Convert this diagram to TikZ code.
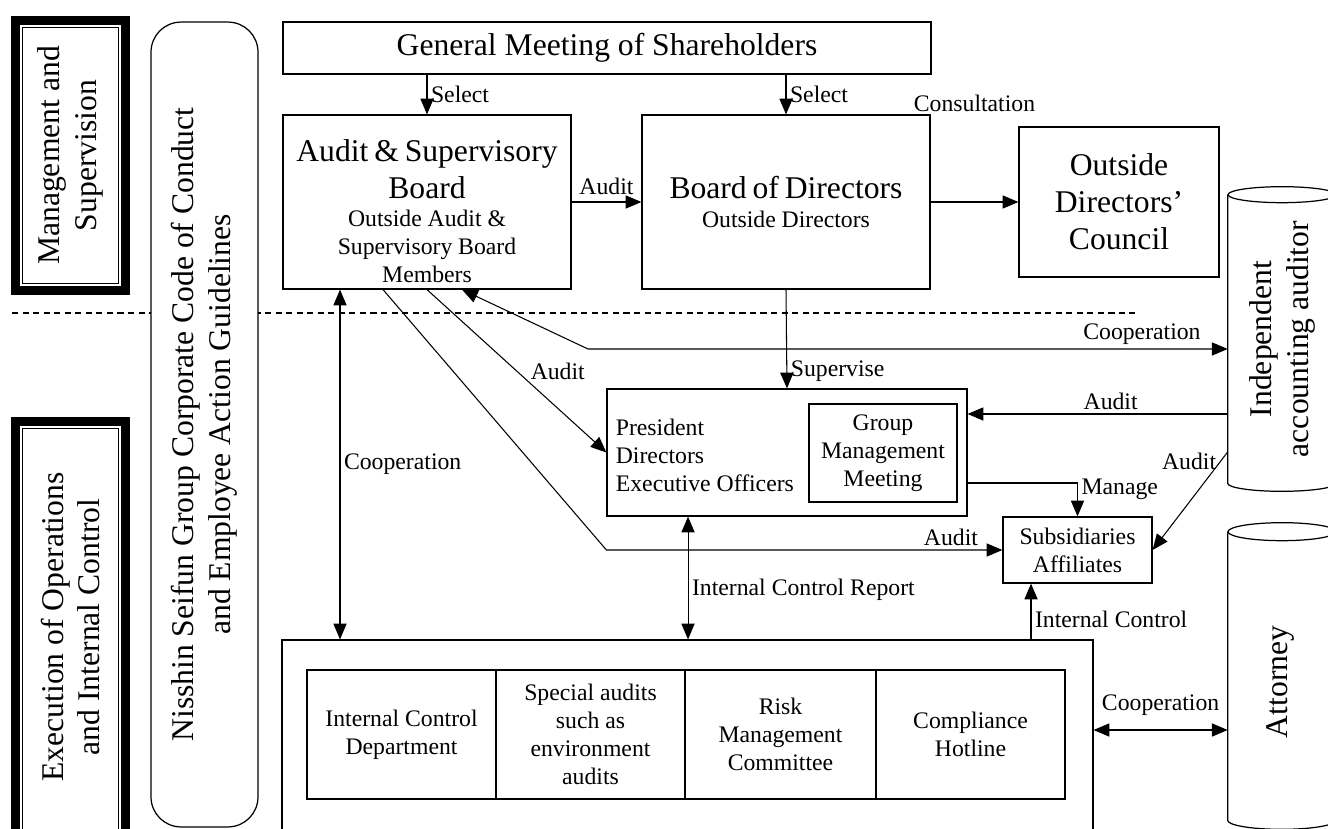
\documentclass[tikz,border=0pt]{standalone}
\usepackage{fontspec}
\setmainfont{Liberation Serif}
\usetikzlibrary{arrows.meta}
\newcommand{\bigtxt}{\fontsize{18}{21}\selectfont}
\newcommand{\smtxt}{\fontsize{13.5}{16}\selectfont}
\tikzset{
  box/.style={draw, line width=0.7pt, fill=white, align=center, inner sep=2pt},
  side/.style={draw, line width=5pt, fill=white, outer sep=0pt},
  arr/.style={-{Triangle[length=9pt,width=7.5pt]}, line width=0.6pt},
  dbl/.style={{Triangle[length=9pt,width=7.5pt]}-{Triangle[length=9pt,width=7.5pt]}, line width=0.6pt},
  lbl/.style={font=\smtxt, inner sep=2pt},
  vtxt/.style={rotate=90, align=center, font=\bigtxt},
  cyl/.style={line width=0.7pt, fill=white}
}
\begin{document}
\begin{tikzpicture}[x=0.02cm, y=0.02cm]
\useasboundingbox (0,0) rectangle (1328,-828);
\draw[line width=0.8pt, dash pattern=on 3.5pt off 2.5pt] (12,-313) -- (1135,-313);
\node[side, minimum width=2.2cm, minimum height=5.4cm] (mgmt) at (70.5,-155.5) {};
\draw[line width=0.6pt] ([shift={(0.14cm,-0.14cm)}]mgmt.north west) rectangle ([shift={(-0.14cm,0.14cm)}]mgmt.south east);
\node[vtxt] (mgmttxt) at (mgmt) {Management and\\ Supervision};
\node[side, minimum width=2.2cm, minimum height=8.57cm] (exec) at (70.5,-635.75) {};
\draw[line width=0.6pt] ([shift={(0.14cm,-0.14cm)}]exec.north west) rectangle ([shift={(-0.14cm,0.14cm)}]exec.south east);
\node[vtxt] (exectxt) at (70.5,-627) {Execution of Operations\\ and Internal Control};
\node[box, rounded corners=0.6cm, minimum width=2.14cm, minimum height=16.1cm] (code) at (204.5,-424.5) {};
\node[vtxt] (codetxt) at (code) {Nisshin Seifun Group Corporate Code of Conduct\\ and Employee Action Guidelines};
\node[box, font=\bigtxt, minimum width=12.96cm, minimum height=1.04cm] (gms) at (607,-48) {General Meeting of Shareholders};
\node[box, minimum width=5.76cm, minimum height=3.48cm] (asb) at (427,-202) {};
\node[text width=5.6cm, align=center, inner sep=0pt] (asbtxt) at ([yshift=-0.18cm]asb.center) {\bigtxt Audit \& Supervisory\\ Board\par\smtxt Outside Audit \&\\ Supervisory Board\\ Members\par};
\node[box, text width=5.6cm, minimum width=5.76cm, minimum height=3.48cm] (bod) at (786,-202) {\bigtxt Board of Directors\par\smtxt Outside Directors\par};
\node[box, font=\bigtxt, minimum width=4cm, minimum height=3cm] (odc) at (1119,-202) {Outside\\ Directors’\\ Council};
\node[box, minimum width=7.2cm, minimum height=2.54cm] (pres) at (787,-452.5) {};
\node[lbl, align=left, anchor=west] (prestxt) at (612,-455) {President\\ Directors\\ Executive Officers};
\node[box, font=\smtxt, minimum width=2.96cm, minimum height=1.96cm] (gmm) at (883,-453) {Group\\ Management\\ Meeting};
\node[box, font=\smtxt, minimum width=2.98cm, minimum height=1.32cm] (subs) at (1077.5,-550) {Subsidiaries\\ Affiliates};
\node[box, minimum width=16.22cm, minimum height=4.4cm] (ctrl) at (687.5,-750) {};
\node[box, font=\smtxt, minimum width=3.78cm, minimum height=2.58cm] (icd) at (401.5,-734.5) {Internal Control\\ Department};
\node[box, font=\smtxt, minimum width=3.78cm, minimum height=2.58cm] (spa) at (590.5,-734.5) {Special audits\\ such as\\ environment\\ audits};
\node[box, font=\smtxt, minimum width=3.82cm, minimum height=2.58cm] (rmc) at (780.5,-734.5) {Risk\\ Management\\ Committee};
\node[box, font=\smtxt, minimum width=3.78cm, minimum height=2.58cm] (hot) at (970.5,-734.5) {Compliance\\ Hotline};
\node[minimum width=2.16cm, minimum height=5.76cm, inner sep=0pt] (aud) at (1282,-339) {};
\draw[cyl] (aud.north west) -- (aud.south west) arc[start angle=180, end angle=360, x radius=1.08cm, y radius=0.16cm] -- (aud.north east);
\draw[cyl] (aud.north) ellipse [x radius=1.08cm, y radius=0.16cm];
\node[vtxt] (audtxt) at (aud) {Independent\\ accounting auditor};
\node[minimum width=2.16cm, minimum height=5.76cm, inner sep=0pt] (att) at (1282,-676) {};
\draw[cyl] (att.north west) -- (att.south west) arc[start angle=180, end angle=360, x radius=1.08cm, y radius=0.18cm] -- (att.north east);
\draw[cyl] (att.north) ellipse [x radius=1.08cm, y radius=0.18cm];
\node[vtxt] (atttxt) at (1280,-682) {Attorney};
\coordinate (coopbend) at (588,-349);
\draw[arr] (asb.north |- gms.south) -- (asb.north) node[lbl, midway, right] {Select};
\draw[arr] (bod.north |- gms.south) -- (bod.north) node[lbl, midway, right] {Select};
\draw[arr] (asb.east) -- (bod.west) node[lbl, midway, above=2pt] {Audit};
\draw[arr] (bod.east) -- (odc.west) node[lbl, midway, yshift=1.98cm] {Consultation};
\draw[arr] (bod.south) -- (pres.north) node[lbl, pos=0.83, right] {Supervise};
\draw[arr] (asb.south) -- (pres.west) node[lbl, pos=0.5, right=0.2cm] {Audit};
\draw[arr] ([xshift=-0.88cm]asb.south) -- (subs.west -| pres.west) -- (subs.west) node[lbl, pos=0.87, above] {Audit};
\draw[dbl] ([xshift=-1.74cm]asb.south) -- ([xshift=-1.74cm]asb.south |- ctrl.north) node[lbl, midway, right] {Cooperation};
\draw[dbl] ([xshift=0.7cm]asb.south) -- (coopbend) -- ([yshift=-0.2cm]aud.west) node[lbl, pos=0.866, above] {Cooperation};
\draw[arr] ([yshift=-1.5cm]aud.west) -- ([yshift=-1.5cm]aud.west -| pres.east) node[lbl, pos=0.45, above] {Audit};
\draw[arr] ([yshift=-2.26cm]aud.west) -- (subs.east) node[lbl, pos=0.1, left] {Audit};
\draw[arr] ([yshift=-0.61cm]pres.east) -| (subs.north) node[lbl, pos=0.6, right] {Manage};
\draw[arr] ([xshift=-0.93cm]subs.south |- ctrl.north) -- ([xshift=-0.93cm]subs.south) node[lbl, pos=0.35, right] {Internal Control};
\draw[dbl] ([xshift=-1.98cm]pres.south) -- ([xshift=-1.98cm]pres.south |- ctrl.north) node[lbl, pos=0.6, right] {Internal Control Report};
\draw[dbl] ([yshift=0.4cm]ctrl.east) -- ([yshift=0.4cm]ctrl.east -| att.west) node[lbl, midway, above=0.2cm] {Cooperation};
\end{tikzpicture}
\end{document}
